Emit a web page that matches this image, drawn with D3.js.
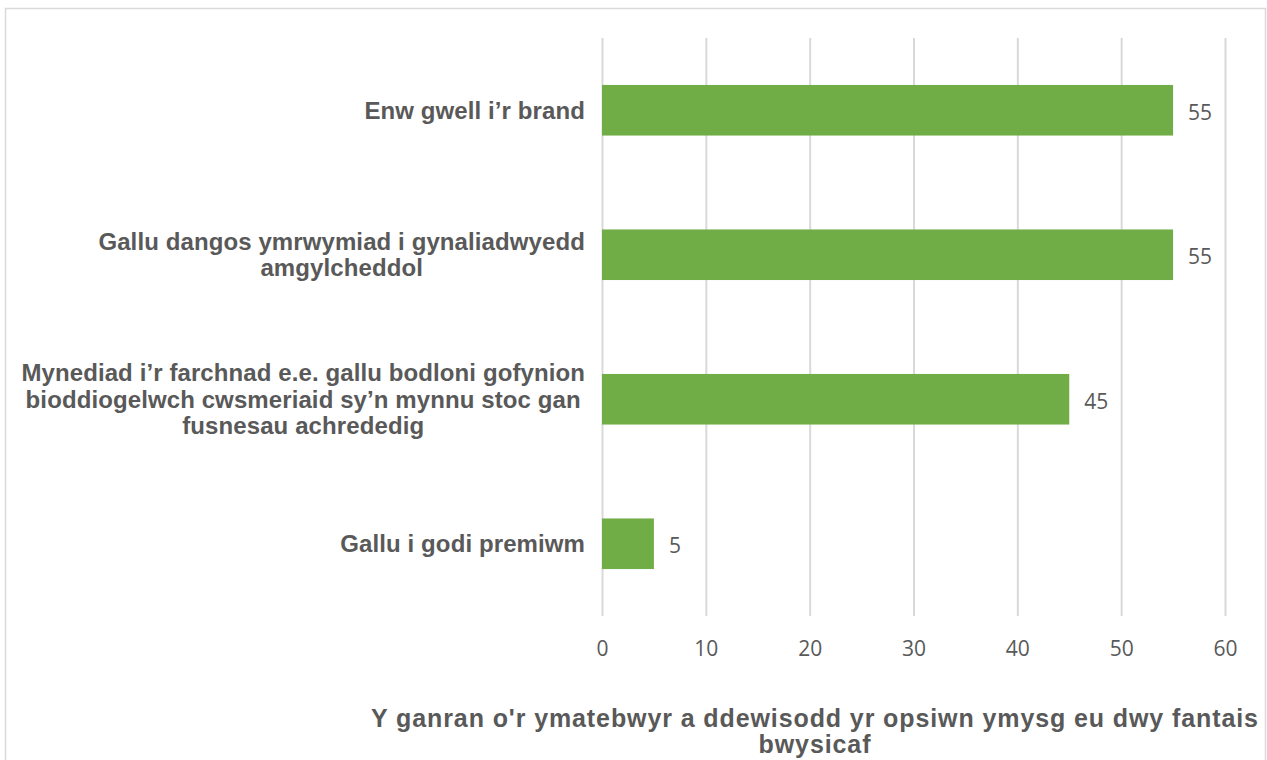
<!DOCTYPE html>
<html>
<head>
<meta charset="utf-8">
<script src="https://cdn.jsdelivr.net/npm/d3@7"></script>
<style>
  body { margin: 0; background: #fff; }
  svg { display: block; }
</style>
</head>
<body>
<div id="container"></div>
<script>
// Data
const categories = [
  "Enw gwell i\u2019r brand",
  "Gallu dangos ymrwymiad i gynaliadwyedd\namgylcheddol",
  "Mynediad i\u2019r farchnad e.e. gallu bodloni gofynion\nbioddiogelwch cwsmeriaid sy\u2019n mynnu stoc gan\nfusnesau achrededig",
  "Gallu i godi premiwm"
];
const values = [55, 55, 45, 5];
const xTicks = [0, 10, 20, 30, 40, 50, 60];
const axisTitle = ["Y ganran o'r ymatebwyr a ddewisodd yr opsiwn ymysg eu dwy fantais", "bwysicaf"];

const width = 1267;
const height = 760;
const margin = { top: 38, right: 42, bottom: 144, left: 602 };
const textColor = "#595959";

const svg = d3.select("#container")
  .append("svg")
  .attr("width", width)
  .attr("height", height);

// chart frame
svg.append("rect")
  .attr("x", 5.5)
  .attr("y", 8.5)
  .attr("width", 1260)
  .attr("height", 780)
  .attr("fill", "#fff")
  .attr("stroke", "#d9d9d9")
  .attr("stroke-width", 1.5);

const xScale = d3.scaleLinear()
  .domain([0, 60])
  .range([margin.left, width - margin.right]);

const yScale = d3.scaleBand()
  .domain(categories)
  .range([margin.top, height - margin.bottom])
  .paddingInner(0.65)
  .paddingOuter(0.325);

// gridlines + tick labels
const xAxis = d3.axisBottom(xScale)
  .tickValues(xTicks)
  .tickSize(-(height - margin.bottom - margin.top))
  .tickPadding(25)
  .tickFormat(d3.format("d"));

const gx = svg.append("g")
  .attr("transform", "translate(0," + (height - margin.bottom) + ")")
  .call(xAxis);
gx.select(".domain").remove();
gx.selectAll(".tick line")
  .attr("stroke", "#d9d9d9")
  .attr("stroke-width", 2);
gx.selectAll(".tick text")
  .attr("fill", textColor)
  .style("font-family", "'Open Sans', 'Noto Sans', sans-serif")
  .style("font-size", "21px");

// bars
svg.append("g")
  .selectAll("rect")
  .data(values)
  .enter()
  .append("rect")
  .attr("x", xScale(0))
  .attr("y", (d, i) => yScale(categories[i]))
  .attr("width", d => xScale(d) - xScale(0))
  .attr("height", yScale.bandwidth())
  .attr("fill", "#70ad47");

// value labels
svg.append("g")
  .selectAll("text")
  .data(values)
  .enter()
  .append("text")
  .attr("x", d => xScale(d) + 15)
  .attr("y", (d, i) => yScale(categories[i]) + yScale.bandwidth() / 2 + 2)
  .attr("dy", "0.35em")
  .attr("fill", textColor)
  .style("font-family", "'Open Sans', 'Noto Sans', sans-serif")
  .style("font-size", "21px")
  .text(d => d);

// category labels (multi-line, centred block, right aligned to the plot)
const labelRight = 585;
const lineHeight = 26.5;
const labels = svg.append("g");
categories.forEach(function (cat) {
  const lines = cat.split("\n");
  const cy = yScale(cat) + yScale.bandwidth() / 2;
  const t = labels.append("text")
    .attr("fill", textColor)
    .attr("text-anchor", "middle")
    .style("font-family", "'Liberation Sans', Arial, sans-serif")
    .style("font-weight", "bold")
    .style("font-size", "24px")
    .style("letter-spacing", "0.1px");
  const spans = lines.map(function (line, j) {
    return t.append("tspan")
      .attr("y", cy + (j - (lines.length - 1) / 2) * lineHeight)
      .attr("dy", "0.35em")
      .text(line);
  });
  let maxW = 0;
  spans.forEach(s => { maxW = Math.max(maxW, s.node().getComputedTextLength()); });
  spans.forEach(s => s.attr("x", labelRight - maxW / 2));
});

// axis title
const title = svg.append("text")
  .attr("fill", textColor)
  .attr("text-anchor", "middle")
  .style("font-family", "'Liberation Sans', Arial, sans-serif")
  .style("font-weight", "bold")
  .style("font-size", "25px")
  .style("letter-spacing", "0.9px");
axisTitle.forEach(function (line, j) {
  title.append("tspan")
    .attr("x", 815)
    .attr("y", 727 + j * 26)
    .text(line);
});
</script>
</body>
</html>
